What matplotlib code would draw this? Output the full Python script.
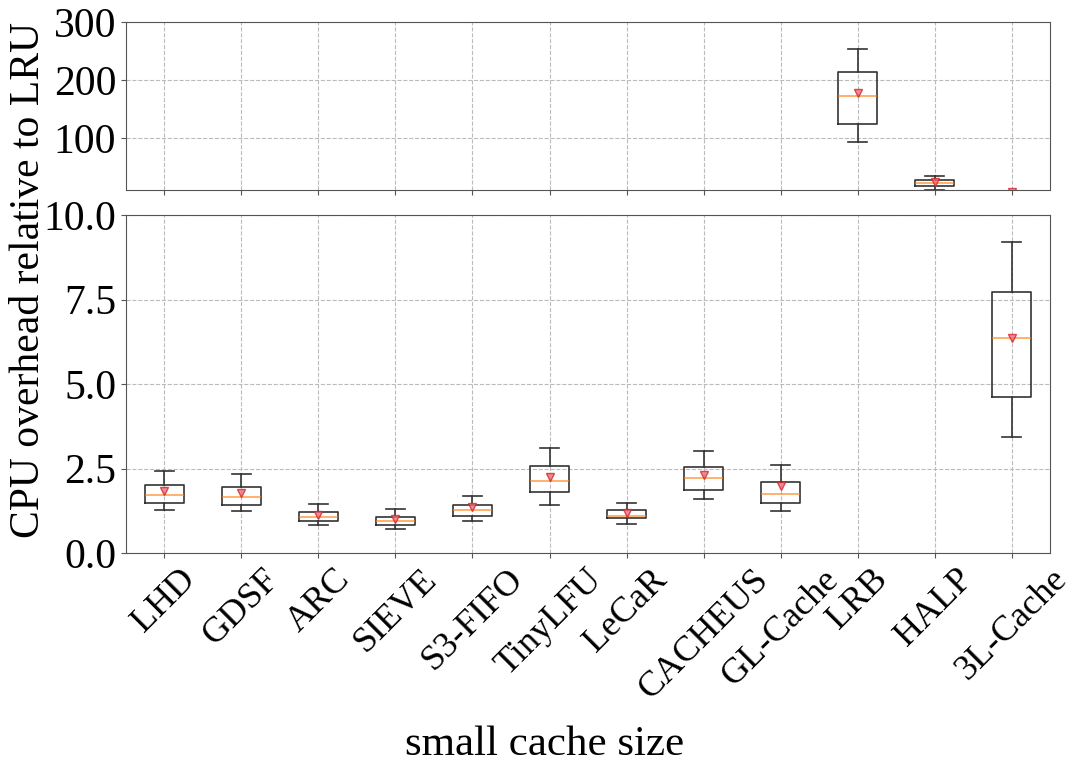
import matplotlib
matplotlib.use("Agg")
import matplotlib.pyplot as plt

plt.rcParams['font.family'] = ['Liberation Serif', 'DejaVu Serif']

# algorithms on the x axis
algorithms = ['LHD', 'GDSF', 'ARC', 'SIEVE', 'S3-FIFO', 'TinyLFU', 'LeCaR',
              'CACHEUS', 'GL-Cache', 'LRB', 'HALP', '3L-Cache']

# box statistics (CPU overhead relative to LRU)
whisker_low = [1.27, 1.24, 0.82, 0.71, 0.94, 1.43, 0.87, 1.59, 1.24, 92.6, 10.3, 3.43]
q1 = [1.47, 1.41, 0.95, 0.83, 1.09, 1.81, 1.03, 1.87, 1.49, 124.7, 16.7, 4.62]
median = [1.71, 1.66, 1.06, 0.95, 1.26, 2.14, 1.10, 2.21, 1.75, 173.0, 23.0, 6.37]
q3 = [2.01, 1.95, 1.22, 1.06, 1.43, 2.59, 1.27, 2.54, 2.09, 214.4, 28.0, 7.73]
whisker_high = [2.44, 2.35, 1.44, 1.29, 1.70, 3.10, 1.48, 3.03, 2.61, 253.4, 35.0, 9.22]
mean = [1.83, 1.77, 1.14, 1.00, 1.35, 2.26, 1.19, 2.30, 1.99, 177.0, 24.6, 6.37]

stats = []
for i, name in enumerate(algorithms):
    stats.append({'label': name, 'whislo': whisker_low[i], 'q1': q1[i], 'med': median[i],
                  'q3': q3[i], 'whishi': whisker_high[i], 'mean': mean[i], 'fliers': []})

fig = plt.figure(figsize=(10.76, 7.66), dpi=100)
ax_top = fig.add_axes([0.117, 0.752, 0.859, 0.219])
ax_bot = fig.add_axes([0.117, 0.278, 0.859, 0.441])

box_kw = dict(showmeans=True, widths=0.5,
              boxprops=dict(color='#333333', linewidth=1.2),
              whiskerprops=dict(color='#333333', linewidth=1.2),
              capprops=dict(color='#333333', linewidth=1.2),
              medianprops=dict(color='#ff7f0e', linewidth=1.2, alpha=0.7),
              meanprops=dict(marker='v', markerfacecolor='#f07080', markeredgecolor='#d62728',
                             markersize=5.5, alpha=0.8))

for ax in (ax_top, ax_bot):
    ax.bxp(stats, **box_kw)
    ax.grid(True, linestyle='--', color='#bbbbbb', linewidth=0.8)
    ax.set_axisbelow(True)
    for s in ax.spines.values():
        s.set_color('#555555')
    ax.tick_params(labelsize=30, colors='#555555', labelcolor='black')

ax_top.set_ylim(10.3, 300)
ax_top.set_yticks([100, 200, 300])
ax_top.tick_params(axis='x', labelbottom=False)

ax_bot.set_ylim(0, 10)
ax_bot.set_yticks([0, 2.5, 5.0, 7.5, 10.0])
ax_bot.set_yticklabels(['0.0', '2.5', '5.0', '7.5', '10.0'])
ax_bot.set_xticklabels(algorithms, rotation=45, fontsize=26)

fig.text(0.506, 0.014, 'small cache size', ha='center', va='baseline', fontsize=31)
fig.text(0.027, 0.634, 'CPU overhead relative to LRU', rotation=90,
         ha='center', va='center', fontsize=30)

fig.savefig('out.png', dpi=100)
